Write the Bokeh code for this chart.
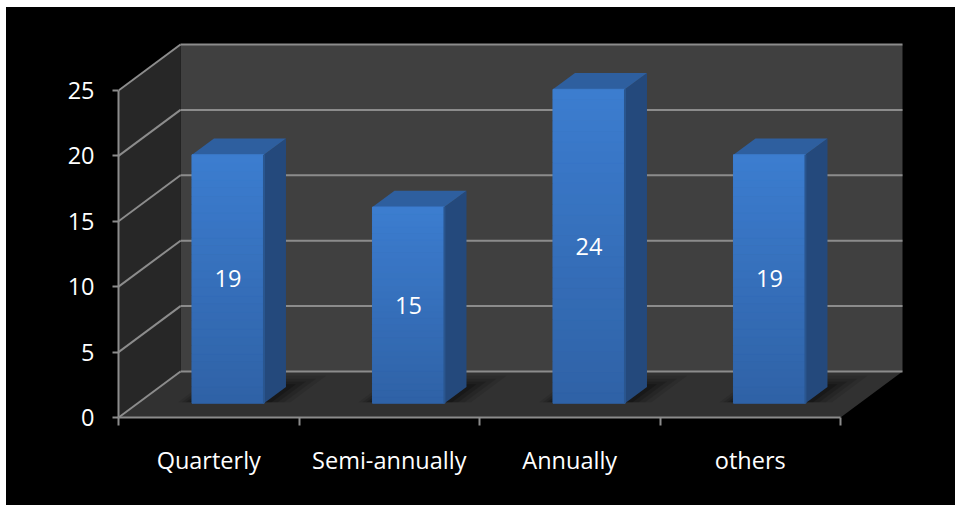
import numpy as np
from bokeh.plotting import figure
from bokeh.models import Range1d, LinearAxis, FixedTicker
from bokeh.core.properties import value
from bokeh.embed import file_html
from bokeh.resources import INLINE

# ---- data -------------------------------------------------------------
categories = ["Quarterly", "Semi-annually", "Annually", "others"]
counts = [19, 15, 24, 19]
y_ticks = [0, 5, 10, 15, 20, 25]
y_max = 25

# ---- geometry of the oblique 3-D box (data units) ----------------------
PX_PER_CAT = 180.5          # horizontal pixels per category
PX_PER_UNIT = 13.08         # vertical pixels per count unit
DEPTH_DX = 62 / PX_PER_CAT  # shift of the back plane, in category units
DEPTH_DY = 46 / PX_PER_UNIT # shift of the back plane, in count units
BAR_HALF = 36 / PX_PER_CAT
BAR_D0, BAR_D1 = 0.31, 0.665

FONT = "Open Sans"
FONT_SIZE = "23.5px"
FRAME_W, FRAME_H = 837, 410


def proj(x, y, d):
    return x + d * DEPTH_DX, y + d * DEPTH_DY


def poly(pts):
    xs, ys = zip(*[proj(*p) for p in pts])
    return list(xs), list(ys)


def mix(c1, c2, t):
    a = [int(c1[i:i + 2], 16) for i in (1, 3, 5)]
    b = [int(c2[i:i + 2], 16) for i in (1, 3, 5)]
    return "#%02x%02x%02x" % tuple(round(a[k] + (b[k] - a[k]) * t) for k in range(3))


n = len(categories)
p = figure(
    width=112 + FRAME_W, height=FRAME_H + 88,
    frame_width=FRAME_W, frame_height=FRAME_H,
    min_border_left=112, min_border_right=0, min_border_top=0, min_border_bottom=88,
    x_range=Range1d(0, FRAME_W / PX_PER_CAT), y_range=Range1d(0, FRAME_H / PX_PER_UNIT),
    output_backend="svg", toolbar_location=None,
    x_axis_location=None, y_axis_location=None,
)
p.margin = (7, 0, 0, 6)
p.styles = {"background-color": "black"}
p.background_fill_color = "black"
p.border_fill_color = "black"
p.outline_line_color = None
p.xgrid.visible = False
p.ygrid.visible = False

# walls and floor
xs, ys = poly([(0, 0, 1), (n, 0, 1), (n, y_max, 1), (0, y_max, 1)])
p.patch(xs, ys, fill_color="#404040", line_color=None)
xs, ys = poly([(0, 0, 0), (0, 0, 1), (0, y_max, 1), (0, y_max, 0)])
p.patch(xs, ys, fill_color="#272727", line_color=None)
xs, ys = poly([(0, 0, 0), (n, 0, 0), (n, 0, 1), (0, 0, 1)])
p.patch(xs, ys, fill_color="#313131", line_color=None)

# gridlines on the back wall and the side wall
GRID = "#8c8c8c"
for t in y_ticks:
    xs, ys = poly([(0, t, 1), (n, t, 1)])
    p.line(xs, ys, line_color=GRID, line_width=2)
    xs, ys = poly([(0, t, 0), (0, t, 1)])
    p.line(xs, ys, line_color=GRID, line_width=2)

# soft shadows under the bars
for i in range(n):
    cx = i + 0.5
    for k, a in enumerate([0.10, 0.12, 0.16, 0.22]):
        gx = (4 - k) * 0.035
        gd = (4 - k) * 0.06
        xs, ys = poly([(cx - BAR_HALF - gx * 0.6, 0, BAR_D0 + 0.02),
                       (cx + BAR_HALF + gx, 0, BAR_D0 + 0.02),
                       (cx + BAR_HALF + gx, 0, min(BAR_D1 + gd, 1)),
                       (cx - BAR_HALF - gx * 0.6, 0, min(BAR_D1 + gd, 1))])
        p.patch(xs, ys, fill_color="black", fill_alpha=a, line_color=None)

# bars
STRIPS = 30
for i, v in enumerate(counts):
    x0, x1 = i + 0.5 - BAR_HALF, i + 0.5 + BAR_HALF
    # side face
    sx, sy = poly([(x1, 0, BAR_D0), (x1, 0, BAR_D1), (x1, v, BAR_D1), (x1, v, BAR_D0)])
    p.patch(sx, sy, fill_color="#24497c", line_color=None)
    # top face
    tx, ty = poly([(x0, v, BAR_D0), (x1, v, BAR_D0), (x1, v, BAR_D1), (x0, v, BAR_D1)])
    p.patch(tx, ty, fill_color="#2e5f9f", line_color=None)
    # front face, shaded from top to bottom
    fx0, fy0 = proj(x0, 0, BAR_D0)
    fx1, _ = proj(x1, 0, BAR_D0)
    edges = np.linspace(0, v, STRIPS + 1)
    cols = [mix("#2f62a6", "#3c7dd0", (k + 0.5) / STRIPS) for k in range(STRIPS)]
    p.quad(left=fx0, right=fx1, bottom=fy0 + edges[:-1], top=fy0 + edges[1:],
           fill_color=cols, line_color=cols, line_width=1)
    # edge highlight between front and side
    p.line([fx1, fx1], [fy0, fy0 + v], line_color="#2a568f", line_width=2)
    # value label
    p.text(x=[(fx0 + fx1) / 2], y=[fy0 + v / 2], text=[str(v)],
           text_color="white", text_font=value(FONT), text_font_size=FONT_SIZE,
           text_align="center", text_baseline="middle")

# value axis
yax = LinearAxis(ticker=FixedTicker(ticks=y_ticks), bounds=(0, y_max))
yax.axis_line_color = GRID
yax.axis_line_width = 2
yax.major_tick_line_color = GRID
yax.major_tick_line_width = 2
yax.major_tick_out = 6
yax.major_tick_in = 0
yax.minor_tick_out = 0
yax.minor_tick_in = 0
yax.major_label_text_color = "white"
yax.major_label_text_font = FONT
yax.major_label_text_font_size = FONT_SIZE
yax.major_label_standoff = 18
p.add_layout(yax, "left")

# category axis: labels at centres, ticks at boundaries
centres = [i + 0.5 for i in range(n)]
xax = LinearAxis(ticker=FixedTicker(ticks=centres, minor_ticks=list(range(n + 1))),
                 bounds=(0, n))
xax.major_label_overrides = {c: name for c, name in zip(centres, categories)}
xax.axis_line_color = GRID
xax.axis_line_width = 2
xax.major_tick_out = 0
xax.major_tick_in = 0
xax.minor_tick_line_color = GRID
xax.minor_tick_line_width = 2
xax.minor_tick_out = 8
xax.minor_tick_in = 0
xax.major_label_text_color = "white"
xax.major_label_text_font = FONT
xax.major_label_text_font_size = FONT_SIZE
xax.major_label_standoff = 18
p.add_layout(xax, "below")

open("out.html", "w").write(file_html(p, INLINE))
